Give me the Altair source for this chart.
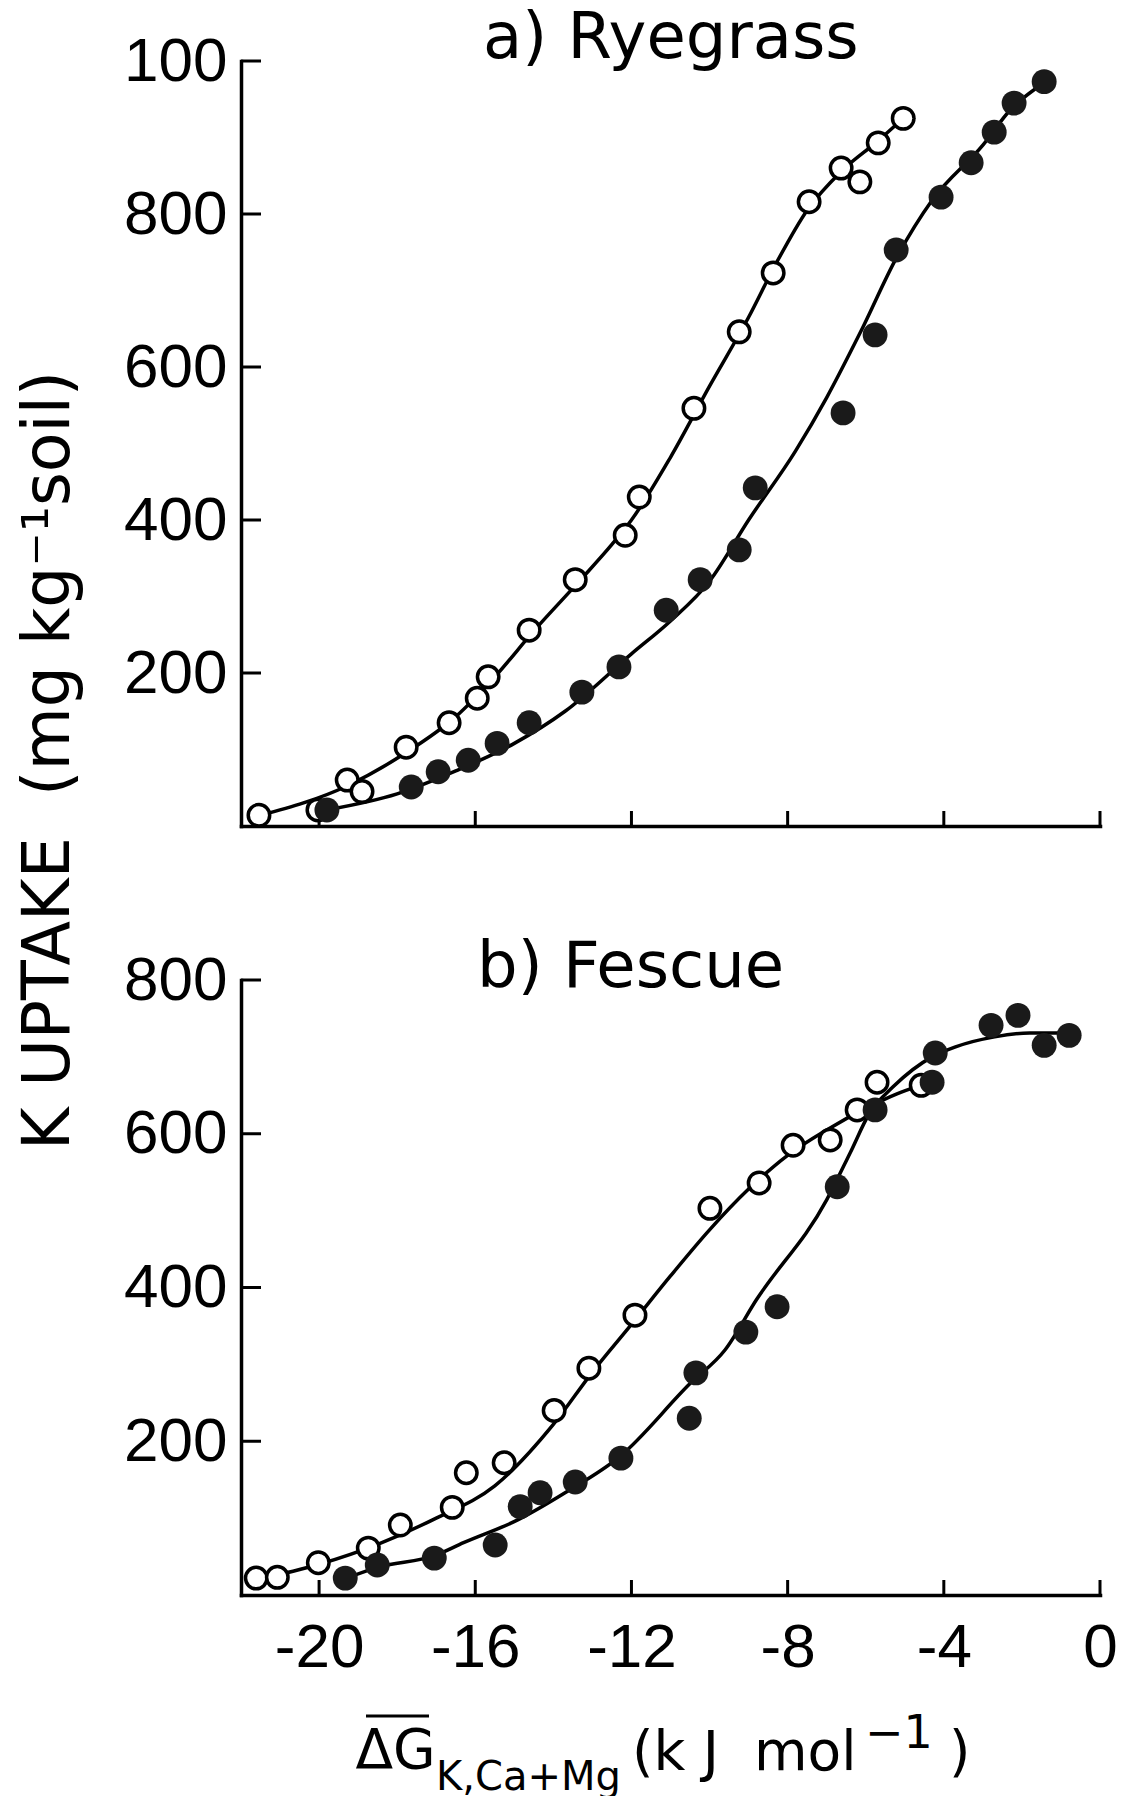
import altair as alt
import pandas as pd

# ---------------- a) Ryegrass: K uptake (mg/kg soil) vs free energy (kJ/mol) ----------------
rye_open_x = [-21.54, -20.03, -19.28, -18.9, -17.77, -16.67, -15.95, -15.67, -14.62, -13.44,
              -12.16, -11.8, -10.4, -9.24, -8.37, -7.45, -6.63, -6.15, -5.68, -5.04]
rye_open_y = [14, 21, 60, 45, 103, 135, 167, 195, 256, 322,
              380, 430, 546, 646, 723, 816, 860, 842, 893, 925]
rye_fill_x = [-19.8, -17.64, -16.95, -16.18, -15.44, -14.62, -13.27, -12.32, -11.11, -10.24,
              -9.24, -8.83, -6.58, -5.76, -5.22, -4.07, -3.3, -2.71, -2.2, -1.43]
rye_fill_y = [21, 51, 71, 86, 108, 135, 175, 208, 282, 322,
              361, 442, 540, 642, 753, 822, 867, 907, 945, 973]

# fitted curves, traced as vertices along each line
rye_open_curve_x = [-21.5, -19.3, -17.8, -16.5, -15.5, -14.5, -13.3, -12.5, -12.0, -11.0,
                    -10.0, -9.0, -8.3, -7.5, -6.6, -5.7, -5.0]
rye_open_curve_y = [14, 52, 95, 143, 195, 255, 322, 368, 400, 482,
                    575, 665, 735, 805, 857, 895, 927]
rye_fill_curve_x = [-19.8, -18.0, -16.5, -15.0, -13.7, -12.0, -11.0, -10.0, -9.0, -7.8,
                    -7.0, -6.15, -5.2, -4.3, -3.0, -2.3, -1.45]
rye_fill_curve_y = [21, 42, 72, 108, 150, 225, 268, 320, 400, 490,
                    560, 644, 744, 818, 890, 936, 971]

# ---------------- b) Fescue ----------------
fes_open_x = [-21.61, -21.07, -20.02, -18.74, -17.92, -16.59, -16.23, -15.26, -13.98, -13.09,
              -11.91, -9.99, -8.73, -7.86, -6.91, -6.22, -5.71, -4.58]
fes_open_y = [22, 23, 42, 61, 91, 114, 159, 172, 240, 295,
              364, 503, 536, 585, 592, 631, 667, 663]
fes_fill_x = [-19.33, -18.51, -17.05, -15.49, -14.85, -14.34, -13.44, -12.27, -10.52, -10.35,
              -9.07, -8.27, -6.73, -5.76, -4.3, -4.22, -2.79, -2.1, -1.43, -0.79]
fes_fill_y = [22, 39, 48, 65, 115, 133, 147, 178, 230, 289,
              342, 375, 531, 631, 667, 705, 741, 754, 715, 728]

fes_open_curve_x = [-21.6, -20.0, -18.5, -17.0, -15.5, -14.0, -13.0, -12.0, -11.0, -10.0,
                    -9.0, -8.0, -7.0, -6.0, -5.2, -4.6]
fes_open_curve_y = [20, 40, 66, 100, 142, 222, 290, 352, 415, 475,
                    528, 572, 605, 633, 652, 663]
fes_fill_curve_x = [-19.3, -18.5, -17.0, -16.3, -14.9, -13.7, -12.3, -10.5, -9.6, -8.8,
                    -7.0, -6.4, -5.9, -5.3, -4.3, -3.7, -2.7, -1.8, -0.75]
fes_fill_curve_y = [22, 36, 52, 68, 98, 133, 180, 275, 319, 384,
                    514, 575, 627, 661, 700, 713, 726, 731, 731]

# ---------------- axes ----------------
X_DOMAIN = [-22, 0]
x_ticks = [-20, -16, -12, -8, -4, 0]
rye_y_ticks = [200, 400, 600, 800, 1000]
fes_y_ticks = [200, 400, 600, 800]

W = 859
H_RYE = 765
H_FES = 615

LABEL_FONT = "Liberation Sans"
TEXT_FONT = "DejaVu Sans"
NBSP = "\u00a0"
INK = "black"


def frame(df_x, df_y):
    return pd.DataFrame({"g": df_x, "k": df_y})


def panel_layers(y_max, y_ticks, ox, oy, fx, fy, ocx, ocy, fcx, fcy, x_axis, y_axis):
    xs = alt.Scale(domain=X_DOMAIN, nice=False, zero=False)
    ys = alt.Scale(domain=[0, y_max], nice=False, zero=False)
    X = alt.X("g:Q", scale=xs, axis=x_axis)
    Y = alt.Y("k:Q", scale=ys, axis=y_axis)

    # inward-pointing tick marks on both axes
    y_tick_marks = alt.Chart(frame([X_DOMAIN[0]] * len(y_ticks), y_ticks)).mark_tick(
        orient="horizontal", size=20, thickness=3, xOffset=10, color=INK, opacity=1
    ).encode(x=X, y=Y)
    x_tick_marks = alt.Chart(frame(x_ticks, [0] * len(x_ticks))).mark_tick(
        orient="vertical", size=15, thickness=3, yOffset=-7.5, color=INK, opacity=1
    ).encode(x=X, y=Y)

    line_open = alt.Chart(frame(ocx, ocy)).mark_line(
        interpolate="monotone", color=INK, strokeWidth=3.5
    ).encode(x=X, y=Y)
    line_fill = alt.Chart(frame(fcx, fcy)).mark_line(
        interpolate="monotone", color=INK, strokeWidth=3.5
    ).encode(x=X, y=Y)

    pts_open = alt.Chart(frame(ox, oy)).mark_point(
        shape="circle", filled=True, fill="white", stroke=INK,
        strokeWidth=3.5, size=460, opacity=1
    ).encode(x=X, y=Y)
    pts_fill = alt.Chart(frame(fx, fy)).mark_circle(
        size=620, color="#1a1a1a", opacity=1
    ).encode(x=X, y=Y)

    return [x_tick_marks, y_tick_marks, line_open, line_fill, pts_open, pts_fill]


def panel_title(text, dx, dy):
    return alt.TitleParams(
        text, anchor="start", frame="group", orient="top", dx=dx, dy=dy, offset=0,
        baseline="alphabetic", font=TEXT_FONT, fontSize=64, fontWeight="normal", color=INK
    )


def label_piece(text, x, y, size):
    return alt.Chart(pd.DataFrame({"t": [text]})).mark_text(
        align="left", baseline="alphabetic", font=TEXT_FONT, fontSize=size, color=INK
    ).encode(x=alt.value(x), y=alt.value(y), text="t:N")


# ---- top panel ----
rye_x_axis = alt.Axis(values=x_ticks, labels=False, title=None)
rye_y_axis = alt.Axis(
    values=rye_y_ticks,
    labelExpr="datum.value == 1000 ? '100' : datum.label",
    labelPadding=14,
    title="K UPTAKE" + NBSP + NBSP + "(mg kg⁻¹soil)",
    titleAngle=270, titleX=-193, titleY=699,
    titleAlign="center", titleBaseline="middle",
    titleFont=TEXT_FONT, titleFontSize=65, titleFontWeight="normal", titleColor=INK,
)
top = alt.layer(
    *panel_layers(1000, rye_y_ticks, rye_open_x, rye_open_y, rye_fill_x, rye_fill_y,
                  rye_open_curve_x, rye_open_curve_y, rye_fill_curve_x, rye_fill_curve_y,
                  rye_x_axis, rye_y_axis)
).properties(width=W, height=H_RYE, title=panel_title("a) Ryegrass", 242, 92))

# ---- bottom panel ----
fes_x_axis = alt.Axis(
    values=x_ticks,
    labelExpr="datum.value < 0 ? '-' + abs(datum.value) : '' + datum.value",
    labelPadding=22, labelFlush=False, labelOverlap=False,
    title="ΔG",
    titleX=114, titleY=172, titleAlign="left", titleBaseline="alphabetic",
    titleFont=TEXT_FONT, titleFontSize=55, titleFontWeight="normal", titleColor=INK,
)
fes_y_axis = alt.Axis(values=fes_y_ticks, labelPadding=14, title=None)

# bar over the ΔG symbol of the x-axis title
g_bar = alt.Chart(pd.DataFrame({"t": [0]})).mark_rule(
    color=INK, strokeWidth=3
).encode(x=alt.value(125), x2=alt.value(188), y=alt.value(736))

subscript = label_piece("K,Ca+Mg", 195, 810, 40)
units = label_piece("(k J" + NBSP + NBSP + "mol", 391, 790, 55)
units_exp = label_piece("−1", 624, 768, 46)
units_close = label_piece(")", 708, 790, 55)

bottom = alt.layer(
    *panel_layers(800, fes_y_ticks, fes_open_x, fes_open_y, fes_fill_x, fes_fill_y,
                  fes_open_curve_x, fes_open_curve_y, fes_fill_curve_x, fes_fill_curve_y,
                  fes_x_axis, fes_y_axis),
    g_bar, subscript, units, units_exp, units_close,
).properties(width=W, height=H_FES, title=panel_title("b) Fescue", 236, 102))

chart = alt.vconcat(top, bottom, spacing=154, bounds="flush").properties(
    padding={"left": 16, "top": 7, "right": 0, "bottom": 0},
    background="white",
).configure_view(stroke=None).configure_axis(
    domainColor=INK, domainWidth=3.5, domainCap="square", grid=False, ticks=False,
    labelColor=INK, labelFont=LABEL_FONT, labelFontSize=62,
)

chart.save("out.html", embed_options={"renderer": "svg", "actions": False})
